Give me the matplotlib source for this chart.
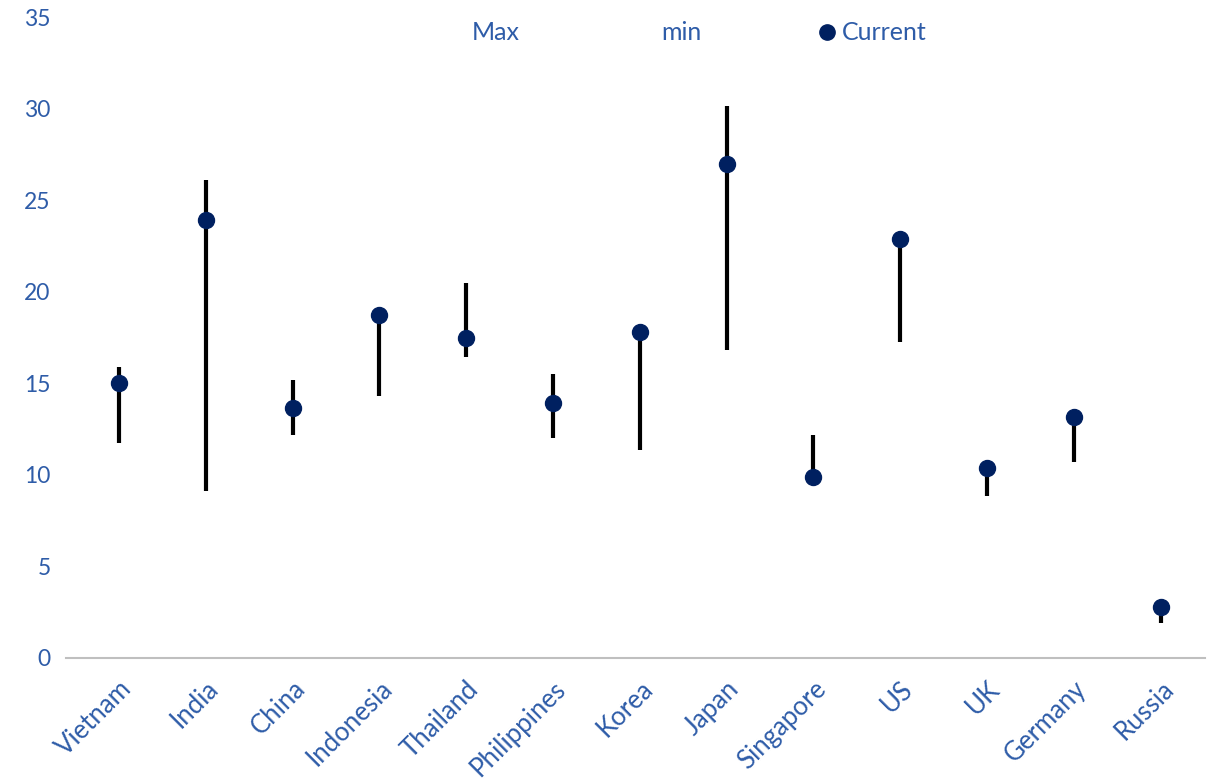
import matplotlib
matplotlib.use("Agg")
import matplotlib.pyplot as plt
from matplotlib.lines import Line2D

countries = ["Vietnam", "India", "China", "Indonesia", "Thailand", "Philippines",
             "Korea", "Japan", "Singapore", "US", "UK", "Germany", "Russia"]
max_vals = [15.9, 26.1, 15.2, 18.73, 20.46, 15.5, 17.82, 30.15, 12.18, 22.88, 10.36, 13.15, 2.8]
min_vals = [11.75, 9.1, 12.2, 14.3, 16.42, 12.03, 11.36, 16.8, 9.9, 17.24, 8.86, 10.69, 1.9]
current_vals = [15.0, 23.9, 13.65, 18.73, 17.5, 13.9, 17.82, 26.95, 9.9, 22.88, 10.36, 13.15, 2.8]
y_ticks = [0, 5, 10, 15, 20, 25, 30, 35]

TEXT = "#2E5CA8"
DOT = "#002060"

plt.rcParams['font.family'] = ['Lato', 'DejaVu Sans']

fig = plt.figure(figsize=(12.11, 7.81), dpi=100)
ax = fig.add_axes([66/1211, 1-658/781, (1205-66)/1211, (658-17)/781])

x = list(range(len(countries)))
ax.vlines(x, min_vals, max_vals, color="black", linewidth=3, zorder=2)
ax.plot(x, current_vals, linestyle="none", marker="o", markersize=11.5,
        color=DOT, zorder=3)

ax.set_xlim(-0.61, len(countries) - 0.49)
ax.set_ylim(0, 35)
ax.set_yticks(y_ticks)
ax.set_yticklabels([str(t) for t in y_ticks])
ax.set_xticks(x)
ax.set_xticklabels(countries, rotation=45, ha="right", rotation_mode="anchor")
ax.tick_params(axis="both", length=0, labelcolor=TEXT)
ax.tick_params(axis="y", pad=11, labelsize=16.5)
ax.tick_params(axis="x", pad=13, labelsize=18.5)
for s in ["top", "right", "left"]:
    ax.spines[s].set_visible(False)
ax.spines["bottom"].set_color("#BFBFBF")
ax.spines["bottom"].set_linewidth(1.5)

handles = [
    Line2D([], [], linestyle="none", marker="none"),
    Line2D([], [], linestyle="none", marker="none"),
    Line2D([], [], linestyle="none", marker="o", markersize=11, color=DOT),
]
leg = fig.legend(handles, ["Max", "min", "Current"], loc="center",
                 bbox_to_anchor=(687/1211, 1-33/781), ncol=3, frameon=False,
                 fontsize=18, handlelength=0.8, handletextpad=0.2,
                 columnspacing=4.64, labelcolor=TEXT)

fig.savefig("out.png", dpi=100)
